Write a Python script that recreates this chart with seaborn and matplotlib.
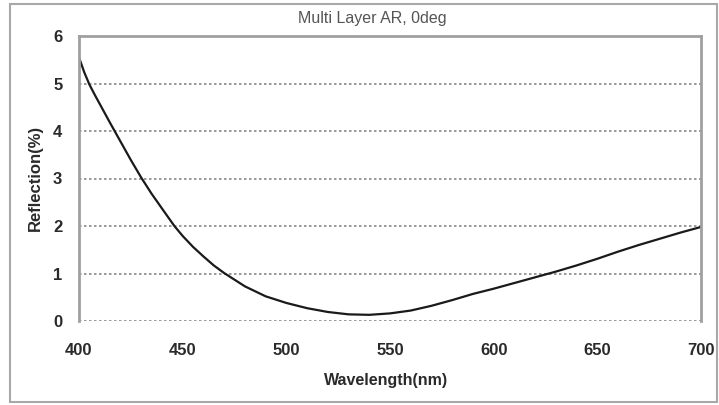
import matplotlib
matplotlib.use("Agg")
import matplotlib.pyplot as plt
import seaborn as sns
import pandas as pd
from matplotlib.patches import Rectangle

wavelength = [400, 402.5, 405, 407.5, 410, 415, 420, 425, 430, 435, 440, 446,
              450, 455, 460, 465, 470, 480, 490, 500, 510, 520, 530, 540, 550,
              560, 570, 580, 590, 600, 610, 620, 630, 640, 650, 660, 670, 680,
              690, 700]
reflection = [5.55, 5.24, 4.98, 4.77, 4.57, 4.17, 3.78, 3.39, 3.02, 2.68, 2.37,
              2.00, 1.79, 1.56, 1.36, 1.17, 1.01, 0.73, 0.52, 0.38, 0.27, 0.19,
              0.14, 0.13, 0.16, 0.22, 0.32, 0.44, 0.57, 0.68, 0.80, 0.92, 1.04,
              1.17, 1.31, 1.46, 1.60, 1.73, 1.86, 1.98]
x_ticks = [400, 450, 500, 550, 600, 650, 700]
y_ticks = [0, 1, 2, 3, 4, 5, 6]

df = pd.DataFrame({"Wavelength": wavelength, "Reflection": reflection})

sns.set_style("white")
plt.rcParams['font.family'] = ['Liberation Sans', 'DejaVu Sans']

fig = plt.figure(figsize=(7.19, 4.05), dpi=100)
ax = fig.add_axes([79/719, 1 - 321/405, 622/719, 285/405])

# outer chart frame
fig.patches.append(Rectangle((10/719, 3/405), 707/719, 398/405, transform=fig.transFigure,
                             fill=False, edgecolor="#a8a8a8", linewidth=1.5))

sns.lineplot(data=df, x="Wavelength", y="Reflection", ax=ax, color="#1a1a1a",
             linewidth=1.6)

ax.set_xlim(400, 700)
ax.set_ylim(0, 6)
ax.set_xticks(x_ticks)
ax.set_yticks(y_ticks)
ax.set_xticklabels([str(t) for t in x_ticks], fontsize=12, fontweight="bold", color="#2a2a2a")
ax.set_yticklabels([str(t) for t in y_ticks], fontsize=12, fontweight="bold", color="#2a2a2a")
ax.tick_params(axis="both", length=0)
ax.tick_params(axis="x", pad=16)
ax.tick_params(axis="y", pad=12)

for yv in [0, 1, 2, 3, 4, 5]:
    ax.axhline(yv, color="#888888", linestyle=(0, (1.5, 1.5)), linewidth=1.2, zorder=0)

for side in ["left", "top", "right"]:
    ax.spines[side].set_color("#a0a0a0")
    ax.spines[side].set_linewidth(2)
ax.spines["bottom"].set_visible(False)

ax.set_xlabel("")
ax.set_ylabel("")
fig.text(386/719, 1 - 381/405, "Wavelength(nm)", ha="center", va="center",
         fontsize=11.5, fontweight="bold", color="#2a2a2a")
fig.text(35/719, 1 - 178/405, "Reflection(%)", ha="center", va="center",
         rotation=90, fontsize=12, fontweight="bold", color="#2a2a2a")

fig.text(372/719, 1 - 18/405, "Multi Layer AR, 0deg", ha="center", va="center",
         fontsize=11.5, color="#555555")

fig.savefig("out.png", dpi=100)
